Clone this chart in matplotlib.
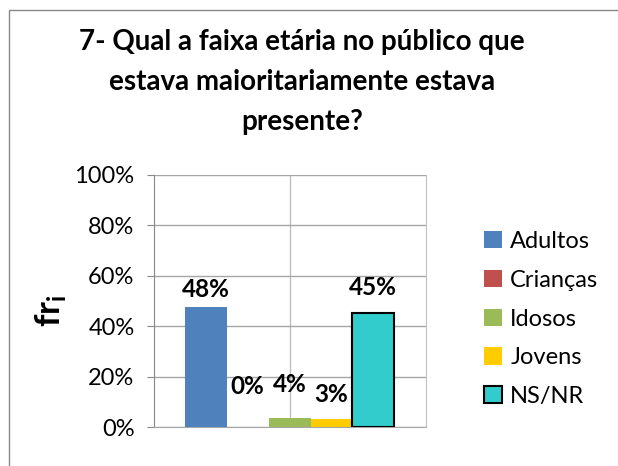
import matplotlib as mpl
import matplotlib.pyplot as plt
from matplotlib.patches import Rectangle
from matplotlib.ticker import PercentFormatter
import numpy as np

mpl.rcParams['font.family'] = ['Lato', 'DejaVu Sans']
mpl.rcParams['mathtext.fontset'] = 'custom'
mpl.rcParams['mathtext.bf'] = 'Lato:bold'
mpl.rcParams['mathtext.rm'] = 'Lato'

categories = ['Adultos', 'Crianças', 'Idosos', 'Jovens', 'NS/NR']
values = [0.476, 0.0, 0.037, 0.032, 0.452]
colors = ['#4f81bd', '#c0504d', '#9bbb59', '#ffcc00', '#33cccc']
edges = ['none', 'none', 'none', 'none', 'black']
# label heights in axis units (hand placed like the original)
label_y = [0.545, 0.16, 0.167, 0.127, 0.552]

title = '7- Qual a faixa etária no público que\nestava maioritariamente estava\npresente?'

fig = plt.figure(figsize=(6.18, 4.66), dpi=100)
ax = fig.add_axes([154 / 618, 1 - 427 / 466, 272 / 618, 252 / 466])

x = np.arange(len(categories))
for i in range(len(categories)):
    ax.bar(x[i], values[i], width=1.0, color=colors[i],
           edgecolor=edges[i] if edges[i] != 'none' else colors[i],
           linewidth=1.5 if edges[i] != 'none' else 0, label=categories[i],
           zorder=3)
    ax.text(x[i], label_y[i], '{:.0f}%'.format(values[i] * 100),
            ha='center', va='center', fontsize=17.5, fontweight='bold', zorder=4)

ax.set_xlim(-1.24, 5.26)
ax.set_ylim(0, 1)
ax.set_yticks(np.arange(0, 1.01, 0.2))
ax.yaxis.set_major_formatter(PercentFormatter(1.0, decimals=0))
ax.tick_params(axis='y', labelsize=17, length=5, color='#888888', pad=9)
ax.set_xticks([])
ax.grid(axis='y', color='#a6a6a6', linewidth=1, zorder=0)
ax.axvline(2, color='#c0c0c0', linewidth=1, zorder=0)
ax.spines['top'].set_visible(False)
ax.spines['right'].set_color('#c0c0c0')
ax.spines['left'].set_color('#888888')
ax.spines['bottom'].set_color('#a6a6a6')

ax.set_ylabel(r'$\mathbf{fr}_{\mathbf{i}}$', fontsize=25)
ax.yaxis.set_label_coords(-0.315, 0.46)

fig.text(0.489, 1 - 82 / 466, title, ha='center', va='center',
         fontsize=20, fontweight='bold', linespacing=1.65)

fig.legend(loc='center left', bbox_to_anchor=(463 / 618, 1 - 319 / 466),
           frameon=False, fontsize=17, handlelength=0.75, handleheight=0.75,
           labelspacing=0.75, handletextpad=0.35)

fig.patches.append(Rectangle((9 / 618, -0.1), 1.2, 1 - 10 / 466 + 0.1,
                             transform=fig.transFigure, fill=False,
                             edgecolor='#888888', linewidth=1))

fig.savefig('out.png', dpi=100)
